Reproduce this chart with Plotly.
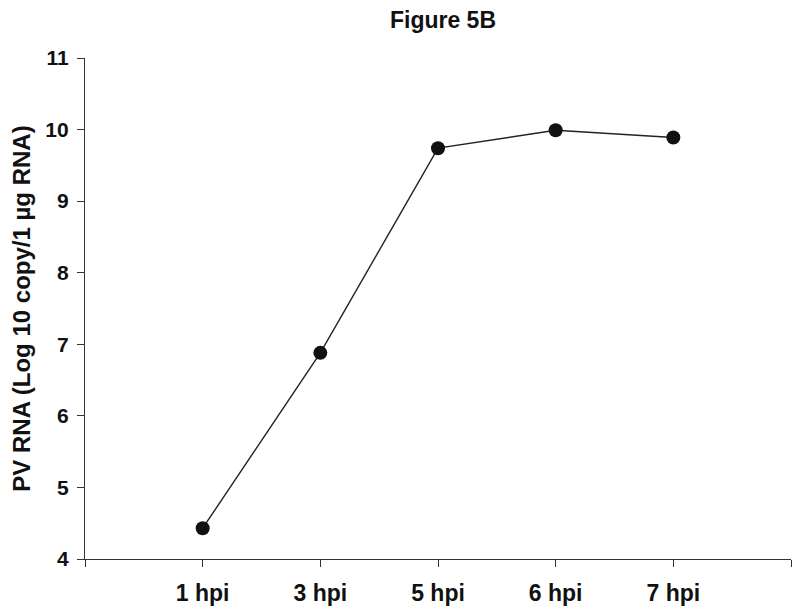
import plotly.graph_objects as go

categories = ["1 hpi", "3 hpi", "5 hpi", "6 hpi", "7 hpi"]
pv_rna = [4.43, 6.88, 9.74, 9.99, 9.89]
y_ticks = [4, 5, 6, 7, 8, 9, 10, 11]

x_pos = list(range(len(categories)))

fig = go.Figure()
fig.add_trace(go.Scatter(
    x=x_pos, y=pv_rna, mode="lines+markers",
    line=dict(color="#222222", width=1.4),
    marker=dict(color="#111111", size=14),
    showlegend=False,
))

font_family = "Liberation Sans, Arial, sans-serif"

# page body has an 8px margin; figure size compensates so it fills the 800x611 window
W, H = 792, 603
fig.update_layout(
    width=W, height=H,
    margin=dict(l=77, r=9, t=50, b=52),
    paper_bgcolor="white", plot_bgcolor="white",
    font=dict(family=font_family, color="#111111"),
    title=dict(text="<b>Figure 5B</b>", x=435/W, xanchor="center",
               y=1 - 4/H, yanchor="top", xref="container", yref="container",
               pad=dict(t=0, b=0),
               font=dict(size=23, family=font_family, color="#111111")),
)
fig.update_xaxes(
    range=[-1, 5], tickmode="array", automargin=False,
    tickvals=[-1] + x_pos + [5], ticktext=[""] + ["<b>%s</b>" % c for c in categories] + [""],
    ticks="outside", ticklen=7, tickwidth=1.3, tickcolor="#333333",
    showline=True, linecolor="#333333", linewidth=1.4,
    showgrid=False, zeroline=False,
    tickfont=dict(size=23, family=font_family, color="#111111"),
    ticklabelstandoff=6,
)
fig.update_yaxes(
    range=[4, 11], tickmode="array", tickvals=y_ticks, automargin=False,
    ticktext=["<b>%d</b>" % v for v in y_ticks],
    ticks="outside", ticklen=7, tickwidth=1.3, tickcolor="#333333",
    showline=True, linecolor="#333333", linewidth=1.4,
    showgrid=False, zeroline=False,
    tickfont=dict(size=21, family=font_family, color="#111111"),
    ticklabelstandoff=4,
    title=dict(text="<b>PV RNA (Log 10 copy/1 µg RNA)</b>",
               font=dict(size=24, family=font_family, color="#111111"), standoff=15),
)

fig.write_html("out.html")
